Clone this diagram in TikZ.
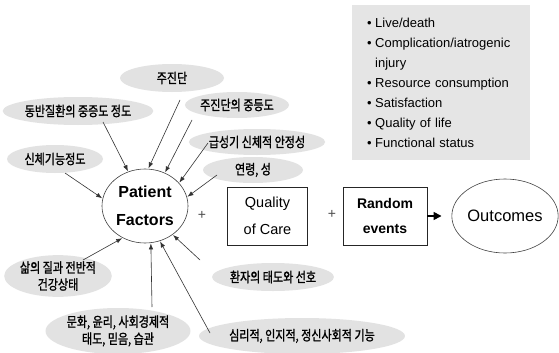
\documentclass[tikz,border=0pt]{standalone}
\usepackage{fontspec}
\setmainfont{Liberation Sans}
\newfontfamily\kr[FakeStretch=0.8,FakeBold=1.2]{Noto Sans CJK KR}
\usetikzlibrary{shapes.geometric,arrows.meta}
\begin{document}
\begin{tikzpicture}[x=1pt,y=-1pt,
  gell/.style={ellipse, fill=gray!23, inner sep=0pt, align=center,
    font=\kr\fontsize{13.8}{17}\selectfont},
  arr/.style={draw=black!80, line width=0.6pt, -{Latex[length=6pt,width=4.5pt]}, shorten >=0.5pt},
  mainell/.style={ellipse, draw=black!75, line width=0.6pt, inner sep=0pt, align=center},
  mainbox/.style={draw=black!85, line width=0.7pt, inner sep=0pt, align=center,
    minimum width=80pt, minimum height=58pt},
  plus/.style={font=\fontsize{14}{14}\selectfont, text=black!70, inner sep=0pt}
]
\useasboundingbox (0,0) rectangle (559,353);
\fill[white] (0,0) rectangle (559,353);

% outcome list box
\node[fill=gray!20, anchor=north west, inner xsep=15pt, inner ysep=0pt,
  text width=148pt, minimum height=155pt, align=left,
  font=\fontsize{13}{20}\selectfont] (ob) at (352,5)
  {\makebox[8pt][l]{•}Live/death\\
   \makebox[8pt][l]{•}Complication/iatrogenic\\
   \hspace*{8pt}injury\\
   \makebox[8pt][l]{•}Resource consumption\\
   \makebox[8pt][l]{•}Satisfaction\\
   \makebox[8pt][l]{•}Quality of life\\
   \makebox[8pt][l]{•}Functional status};

% gray factor ellipses
\node[gell, minimum width=104pt, minimum height=28pt] (jj) at (172,78) {주진단};
\node[gell, minimum width=140pt, minimum height=28pt] (db) at (78,111) {동반질환의 중증도 정도};
\node[gell, minimum width=92pt, minimum height=26pt] (jd) at (237,105) {주진단의 중등도};
\node[gell, minimum width=114pt, minimum height=26pt] (gs) at (257,142) {급성기 신체적 안정성};
\node[gell, minimum width=100pt, minimum height=26pt] (ys) at (253,170) {연령, 성};
\node[gell, minimum width=96pt, minimum height=28pt] (sc) at (55,159) {신체기능정도};
\node[gell, minimum width=90pt, minimum height=40pt] (sj) at (58,276) {삶의 질과 전반적\\건강상태};
\node[gell, minimum width=136pt, minimum height=46pt] (mh) at (118,331) {문화, 윤리, 사회경제적\\태도, 믿음, 습관};
\node[gell, minimum width=120pt, minimum height=28pt] (hj) at (273,277) {환자의 태도와 선호};
\node[gell, minimum width=180pt, minimum height=36pt] (sr) at (302,336) {심리적, 인지적, 정신사회적 기능};

% main chain
\node[mainell, minimum width=86pt, minimum height=74pt,
  font=\bfseries\fontsize{16}{28}\selectfont] (pf) at (145,206) {Patient\\Factors};
\node[plus] (p1) at (202,215) {+};
\node[mainbox, font=\fontsize{14.5}{27}\selectfont] (qc) at (267.5,216) {Quality\\of Care};
\node[plus] (p2) at (332,214) {+};
\node[mainbox, minimum width=84pt, font=\bfseries\fontsize{14}{25}\selectfont] (re) at (385,216) {Random\\events};
\node[mainell, minimum width=96pt, minimum height=74pt,
  font=\fontsize{16.5}{20}\selectfont] (oc) at (505,216) {Outcomes};

\draw[line width=1.5pt, -{Triangle[length=8pt,width=8pt]}, shorten >=10pt] (re.east) -- (oc.west);

% arrow start points
\coordinate (s1) at (180,100);
\coordinate (s2) at (103,122);
\coordinate (s3) at (192,120);
\coordinate (s4) at (208,143);
\coordinate (s5) at (217,175);
\coordinate (s6) at (65,173);
\coordinate (s7) at (83,260);
\coordinate (s8) at (152,307);
\coordinate (s9) at (210,333);
\coordinate (s10) at (200,260);

\draw[arr] (s1) -- (pf.85);
\draw[arr] (s2) -- (pf.116);
\draw[arr] (s3) -- (pf.59);
\draw[arr] (s4) -- (pf.34);
\draw[arr] (s5) -- (pf.12);
\draw[arr] (s6) -- (pf.170);
\draw[arr] (s7) -- (pf.235);
\draw[arr] (s8) -- (pf.279);
\draw[arr] (s9) -- (pf.293);
\draw[arr] (s10) -- (pf.314);
\end{tikzpicture}
\end{document}
